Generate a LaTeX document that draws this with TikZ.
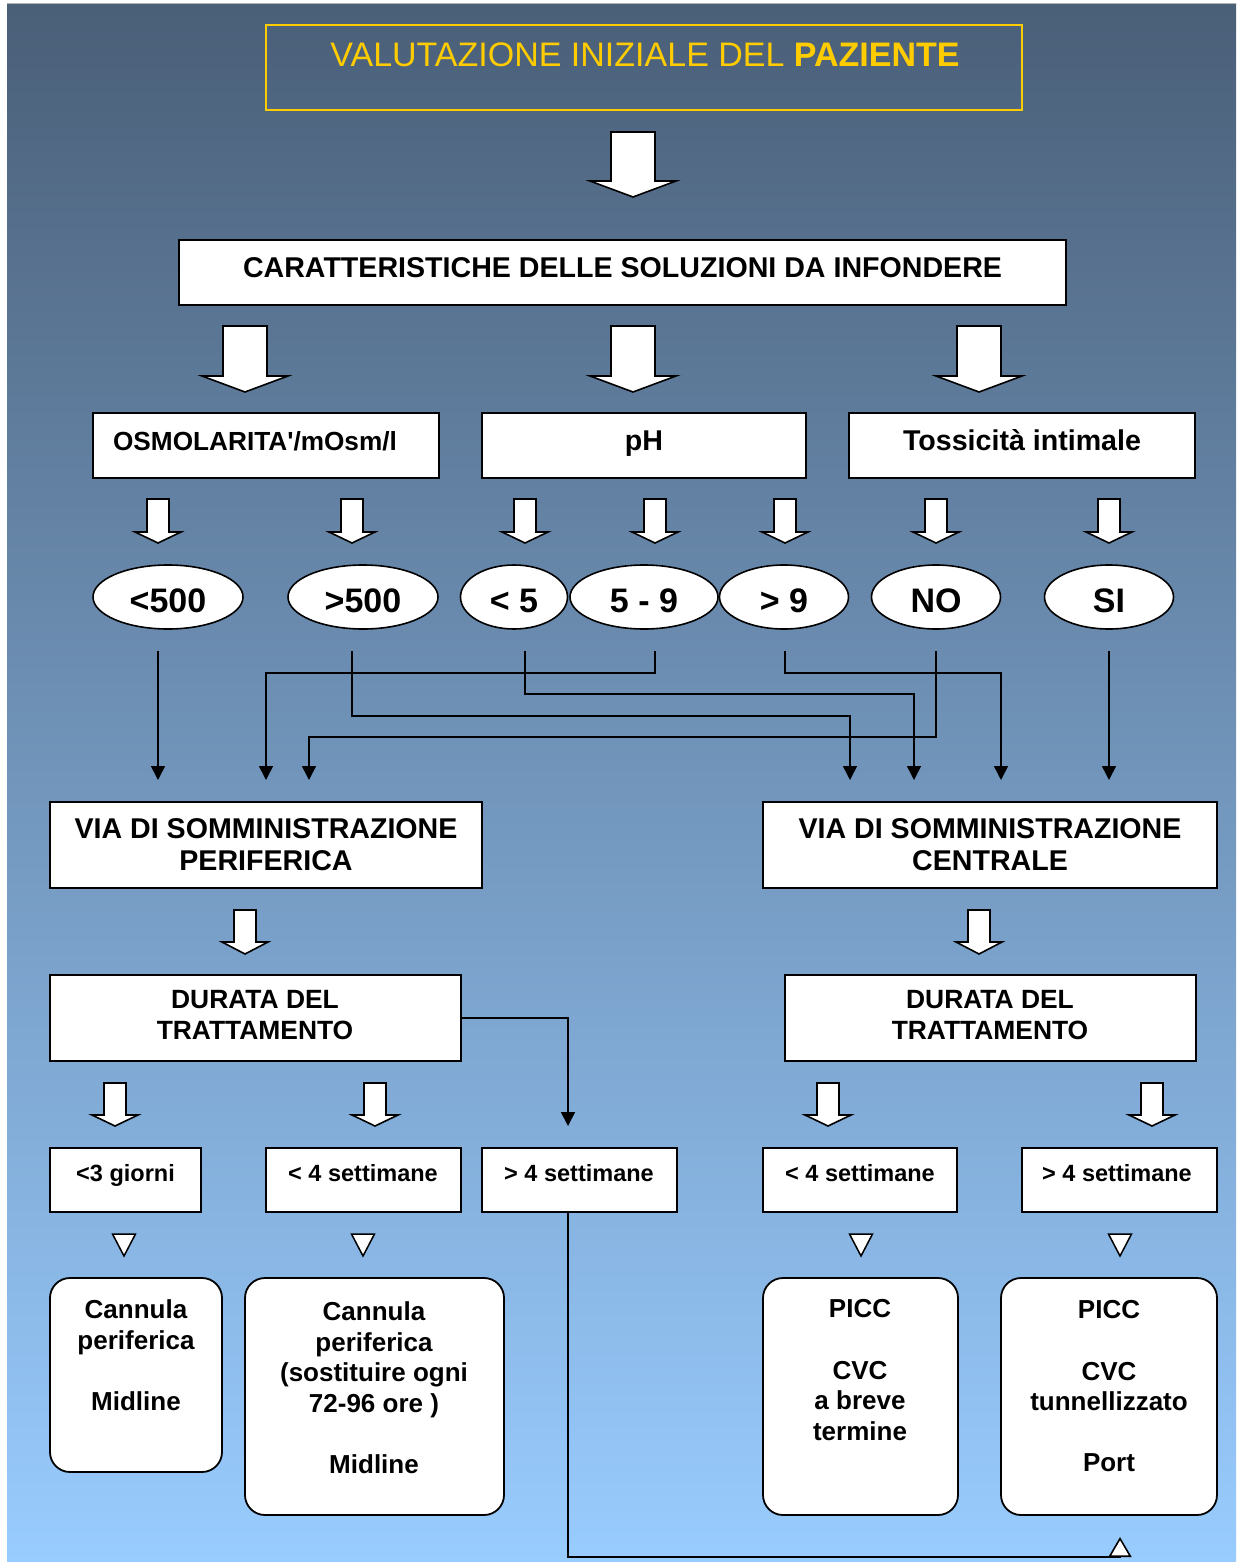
\documentclass[tikz,border=0pt]{standalone}
\usepackage{fontspec}
\setmainfont{Liberation Sans}
\usetikzlibrary{arrows.meta,shapes.geometric,calc}
\definecolor{bgtop}{RGB}{74,95,120}
\definecolor{bgbot}{RGB}{153,204,255}
\definecolor{ttl}{RGB}{255,204,0}
% block arrow: cx, top, head base, tip, shaft half width, head half width
\newcommand\blkarr[6]{%
  \draw[blk] (#1-#5,#2) -- (#1+#5,#2) -- (#1+#5,#3) -- (#1+#6,#3) -- (#1,#4) -- (#1-#6,#3) -- (#1-#5,#3) -- cycle;}
\newcommand\opentri[1]{%
  \draw[tri] (#1-11.5,1234) -- (#1+11.5,1234) -- (#1,1256) -- cycle;}
\tikzset{
  box/.style={draw=black, fill=white, line width=1.8pt, rectangle, inner sep=0pt},
  rbox/.style={box, rounded corners=20pt},
  ell/.style={draw=black, fill=white, ellipse, line width=1.6pt, inner sep=0pt},
  blk/.style={draw=black, fill=white, line width=1.6pt, line join=miter},
  tri/.style={draw=black, fill=white, line width=1.5pt, line join=miter},
  conn/.style={draw=black, line width=1.6pt, -{Triangle[length=14pt,width=14pt]}},
  endconn/.style={draw=black, line width=1.6pt, -{Triangle[open,length=20pt,width=23pt,fill=white]}},
  tA/.style={inner sep=0pt, font=\fontsize{34}{40}\selectfont\bfseries, text height=30pt, text depth=0pt},
  tB/.style={inner sep=0pt, font=\fontsize{28.6}{32}\selectfont\bfseries, text height=20.5pt, text depth=0pt},
  tC/.style={inner sep=0pt, font=\fontsize{26.2}{30}\selectfont\bfseries, text height=18.8pt, text depth=0pt},
  tD/.style={inner sep=0pt, font=\fontsize{23.5}{28}\selectfont\bfseries, text height=16.8pt, text depth=0pt},
  mlB/.style={inner sep=0pt, anchor=north, align=center, font=\fontsize{28.6}{32}\selectfont\bfseries},
  mlC/.style={inner sep=0pt, anchor=north, align=center, font=\fontsize{26.4}{31}\selectfont\bfseries},
  mlR/.style={inner sep=0pt, anchor=north, align=center, font=\fontsize{26}{30.6}\selectfont\bfseries},
}
\begin{document}
\begin{tikzpicture}[x=1pt,y=-1pt]
\useasboundingbox (0,0) rectangle (1236,1562);
\fill[white] (0,0) rectangle (1236,1562);
\shade[top color=bgtop, bottom color=bgbot] (7,4) rectangle (1236,1562);
\draw[gray!60, line width=1pt] (7,4) -- (1236,4);

% title
\node[draw=ttl, line width=1.8pt, minimum width=756pt, minimum height=85pt, inner sep=0pt] (title) at (644,67.5) {};
\node[inner sep=0pt, text=ttl, font=\fontsize{34}{40}\selectfont, text height=24.3pt, text depth=0pt] (title-t) at (645,54) {VALUTAZIONE INIZIALE DEL \textbf{PAZIENTE}};

\blkarr{633}{132}{181}{197}{22}{43}

% characteristics
\node[box, minimum width=887pt, minimum height=65pt] (car) at (622.5,272.5) {};
\node[tB] (car-t) at (622.5,267) {CARATTERISTICHE DELLE SOLUZIONI DA INFONDERE};

\blkarr{245}{326}{376}{392}{22}{43}
\blkarr{633}{326}{376}{392}{22}{43}
\blkarr{979}{326}{376}{392}{22}{43}

\node[box, minimum width=346pt, minimum height=65pt] (osm) at (266,445.5) {};
\node[box, minimum width=324pt, minimum height=65pt] (ph) at (644,445.5) {};
\node[box, minimum width=346pt, minimum height=65pt] (tox) at (1022,445.5) {};
\node[tC] (osm-t) at (255,441) {OSMOLARITA\textquotesingle/mOsm/l};
\node[tB] (ph-t) at (644,440) {pH};
\node[tB] (tox-t) at (1022,440) {Tossicità intimale};

\foreach \cx in {158,352,525,655,785,936,1109} {\blkarr{\cx}{499}{532}{543}{11}{23}}

% ellipses
\node[ell, minimum width=150pt, minimum height=64pt, tA] (e1) at (168,597) {<500};
\node[ell, minimum width=150pt, minimum height=64pt, tA] (e2) at (363,597) {>500};
\node[ell, minimum width=107pt, minimum height=64pt, tA] (e3) at (514,597) {< 5};
\node[ell, minimum width=148pt, minimum height=64pt, tA] (e4) at (644,597) {5 - 9};
\node[ell, minimum width=129pt, minimum height=64pt, tA] (e5) at (784,597) {> 9};
\node[ell, minimum width=129pt, minimum height=64pt, tA] (e6) at (936,597) {NO};
\node[ell, minimum width=129pt, minimum height=64pt, tA] (e7) at (1109,597) {SI};

% connector coordinates
\coordinate (s1) at (158,651);
\coordinate (s2) at (352,651);
\coordinate (s3) at (525,651);
\coordinate (s4) at (655,651);
\coordinate (s5) at (785,651);
\coordinate (s6) at (936,651);
\coordinate (s7) at (1109,651);
\coordinate (vp1) at (158,780);
\coordinate (vp2) at (266,780);
\coordinate (vp3) at (309,780);
\coordinate (vc1) at (850,780);
\coordinate (vc2) at (914,780);
\coordinate (vc3) at (1001,780);
\coordinate (vc4) at (1109,780);

\draw[conn] (s1) -- (vp1);
\draw[conn] (s4) -- (655,673) -| (vp2);
\draw[conn] (s3) -- (525,694) -| (vc2);
\draw[conn] (s2) -- (352,716) -| (vc1);
\draw[conn] (s6) -- (936,737) -| (vp3);
\draw[conn] (s5) -- (785,673) -| (vc3);
\draw[conn] (s7) -- (vc4);

% via boxes
\node[box, minimum width=432pt, minimum height=86pt] (viaP) at (266,845) {};
\node[mlB] (viaP-t) at (266,818.5) {VIA DI SOMMINISTRAZIONE\\PERIFERICA};
\node[box, minimum width=454pt, minimum height=86pt] (viaC) at (990,845) {};
\node[mlB] (viaC-t) at (990,818.5) {VIA DI SOMMINISTRAZIONE\\CENTRALE};

\blkarr{245}{910}{942}{954}{11}{23}
\blkarr{979}{910}{942}{954}{11}{23}

% durata
\node[box, minimum width=411pt, minimum height=86pt] (durL) at (255.5,1018) {};
\node[mlC] (durL-t) at (255,990.5) {DURATA DEL\\TRATTAMENTO};
\node[box, minimum width=411pt, minimum height=86pt] (durR) at (990.5,1018) {};
\node[mlC] (durR-t) at (990,990.5) {DURATA DEL\\TRATTAMENTO};

\coordinate (d3in) at (568,1126);
\draw[conn] (durL.east) -| (d3in);

\foreach \cx in {115,375,828,1152} {\blkarr{\cx}{1083}{1115}{1126}{11}{23}}

% duration boxes
\node[box, minimum width=151pt, minimum height=64pt] (d1) at (125.5,1180) {};
\node[box, minimum width=195pt, minimum height=64pt] (d2) at (363.5,1180) {};
\node[box, minimum width=195pt, minimum height=64pt] (d3) at (579.5,1180) {};
\node[box, minimum width=194pt, minimum height=64pt] (d4) at (860,1180) {};
\node[box, minimum width=195pt, minimum height=64pt] (d5) at (1119.5,1180) {};
\node[tD] (d1-t) at (125.5,1173) {<3 giorni};
\node[tD] (d2-t) at (363,1173) {< 4 settimane};
\node[tD] (d3-t) at (579,1173) {> 4 settimane};
\node[tD] (d4-t) at (860,1173) {< 4 settimane};
\node[tD] (d5-t) at (1117,1173) {> 4 settimane};

\opentri{124}
\opentri{363}
\opentri{861}
\opentri{1120}

% rounded result boxes
\node[rbox, minimum width=172pt, minimum height=194pt] (r1) at (136,1375) {};
\node[mlR] (r1-t) at (136,1299.5) {Cannula\\periferica\\[30.6pt]Midline};
\node[rbox, minimum width=259pt, minimum height=237pt] (r2) at (374.5,1396.5) {};
\node[mlR] (r2-t) at (374,1301.5) {Cannula\\periferica\\(sostituire ogni\\72-96 ore )\\[30.6pt]Midline};
\node[rbox, minimum width=195pt, minimum height=237pt] (r3) at (860.5,1396.5) {};
\node[mlR] (r3-t) at (860,1299.5) {PICC\\[30.6pt]CVC\\a breve\\termine};
\node[rbox, minimum width=216pt, minimum height=237pt] (r4) at (1109,1396.5) {};
\node[mlR] (r4-t) at (1109,1300.5) {PICC\\[30.6pt]CVC\\tunnellizzato\\[30.6pt]Port};

% long connector from > 4 settimane (left) to the right-hand result box
\coordinate (d3out) at (568,1212);
\coordinate (r4in) at (1120,1537);
\draw[endconn] (d3out) -- (568,1557) -- (1120,1557) -- (r4in);
\end{tikzpicture}
\end{document}
